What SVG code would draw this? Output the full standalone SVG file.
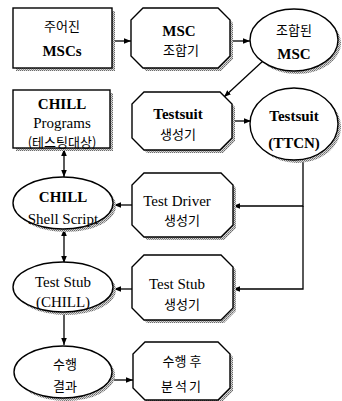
<svg xmlns="http://www.w3.org/2000/svg" width="342" height="401" viewBox="0 0 342 401">
  <style>
    .shape { fill: #ffffff; stroke: #000000; stroke-width: 1.4; }
    .shadow { fill: url(#stipple); stroke: none; }
    .lat { font-family: 'Liberation Serif', 'DejaVu Serif', 'Noto Sans CJK KR', serif; font-size: 15px; font-weight: bold; text-anchor: middle; fill: #000; }
    .reg { font-weight: normal; }
    .kor { font-family: 'Noto Sans CJK KR', sans-serif; font-size: 13px; text-anchor: middle; fill: #000; }
    .wide { letter-spacing: 2px; }
    .conn { fill: none; stroke: #000000; stroke-width: 1.3; }
  </style>
  <defs>
    <pattern id="stipple" width="2" height="2" patternUnits="userSpaceOnUse">
      <rect width="2" height="2" fill="#d8d8d8"/>
      <rect width="1" height="1" fill="#6a6a6a"/>
      <rect x="1" y="1" width="1" height="1" fill="#8a8a8a"/>
    </pattern>
    <marker id="arrow" viewBox="0 0 10 10" refX="10" refY="5" markerWidth="7" markerHeight="7" markerUnits="userSpaceOnUse" orient="auto-start-reverse">
      <path d="M0,1 L10,5 L0,9 z" fill="#000"/>
    </marker>
  </defs>

  <!-- connectors -->
  <g id="connectors">
    <line class="conn" x1="112" y1="41" x2="131" y2="41" marker-end="url(#arrow)"/>
    <line class="conn" x1="230" y1="41" x2="250" y2="41" marker-end="url(#arrow)"/>
    <line class="conn" x1="264" y1="60" x2="224" y2="97" marker-end="url(#arrow)"/>
    <line class="conn" x1="232" y1="121" x2="251" y2="121" marker-end="url(#arrow)"/>
    <line class="conn" x1="64" y1="149" x2="64" y2="177" marker-start="url(#arrow)" marker-end="url(#arrow)"/>
    <polyline class="conn" points="303,161 303,206 233,206" marker-end="url(#arrow)"/>
    <polyline class="conn" points="303,206 303,289 233,289" marker-end="url(#arrow)"/>
    <line class="conn" x1="132" y1="205" x2="114" y2="205" marker-end="url(#arrow)"/>
    <line class="conn" x1="64" y1="229" x2="64" y2="263" marker-start="url(#arrow)" marker-end="url(#arrow)"/>
    <line class="conn" x1="132" y1="289" x2="114" y2="289" marker-end="url(#arrow)"/>
    <line class="conn" x1="64" y1="313" x2="64" y2="345" marker-end="url(#arrow)"/>
    <line class="conn" x1="112" y1="380" x2="133" y2="380" marker-end="url(#arrow)"/>
  </g>

  <!-- 주어진 MSCs -->
  <g id="given-mscs">
    <rect class="shadow" x="16" y="11" width="99" height="60"/>
    <rect class="shape" x="13" y="8" width="99" height="60"/>
    <text class="kor" x="62" y="31">주어진</text>
    <text class="lat" x="62" y="56">MSCs</text>
  </g>

  <!-- MSC 조합기 -->
  <g id="msc-combiner">
    <polygon class="shadow" points="146,11 221,11 233,23 233,59 221,71 146,71 134,59 134,23"/>
    <polygon class="shape" points="143,8 218,8 230,20 230,56 218,68 143,68 131,56 131,20"/>
    <text class="lat" x="179" y="36">MSC</text>
    <text class="kor" x="181" y="55">조합기</text>
  </g>

  <!-- 조합된 MSC -->
  <g id="combined-msc">
    <ellipse class="shadow" cx="297" cy="43" rx="44" ry="31"/>
    <ellipse class="shape" cx="294" cy="40" rx="44" ry="31"/>
    <text class="kor" x="294" y="35">조합된</text>
    <text class="lat" x="294" y="59">MSC</text>
  </g>

  <!-- CHILL Programs -->
  <g id="chill-programs">
    <rect class="shadow" x="16" y="93" width="97" height="58"/>
    <rect class="shape" x="13" y="90" width="97" height="58"/>
    <text class="lat" x="62" y="109">CHILL</text>
    <text class="lat reg" x="62" y="128">Programs</text>
    <text class="kor" x="62" y="147">(테스팅대상)</text>
  </g>

  <!-- Testsuit 생성기 -->
  <g id="testsuit-generator">
    <polygon class="shadow" points="147,95 223,95 235,107 235,141 223,153 147,153 135,141 135,107"/>
    <polygon class="shape" points="144,92 220,92 232,104 232,138 220,150 144,150 132,138 132,104"/>
    <text class="lat" x="178" y="119">Testsuit</text>
    <text class="kor" x="178" y="139">생성기</text>
  </g>

  <!-- Testsuit (TTCN) -->
  <g id="testsuit-ttcn">
    <ellipse class="shadow" cx="297" cy="127" rx="44" ry="36"/>
    <ellipse class="shape" cx="294" cy="124" rx="44" ry="36"/>
    <text class="lat" x="294" y="121">Testsuit</text>
    <text class="lat" x="294" y="148">(TTCN)</text>
  </g>

  <!-- CHILL Shell Script -->
  <g id="chill-shell-script">
    <ellipse class="shadow" cx="66" cy="206" rx="50" ry="26"/>
    <ellipse class="shape" cx="63" cy="203" rx="50" ry="26"/>
    <text class="lat" x="63" y="202">CHILL</text>
    <text class="lat reg" x="63" y="224">Shell Script</text>
  </g>

  <!-- Test Driver 생성기 -->
  <g id="test-driver-generator">
    <polygon class="shadow" points="147,176 224,176 236,188 236,228 224,240 147,240 135,228 135,188"/>
    <polygon class="shape" points="144,173 221,173 233,185 233,225 221,237 144,237 132,225 132,185"/>
    <text class="lat reg" x="177" y="206">Test Driver</text>
    <text class="kor" x="182" y="225">생성기</text>
  </g>

  <!-- Test Stub (CHILL) -->
  <g id="test-stub-chill">
    <ellipse class="shadow" cx="66" cy="290" rx="50" ry="25"/>
    <ellipse class="shape" cx="63" cy="287" rx="50" ry="25"/>
    <text class="lat reg" x="63" y="287">Test Stub</text>
    <text class="lat reg" x="63" y="307">(CHILL)</text>
  </g>

  <!-- Test Stub 생성기 -->
  <g id="test-stub-generator">
    <polygon class="shadow" points="147,258 224,258 236,270 236,311 224,323 147,323 135,311 135,270"/>
    <polygon class="shape" points="144,255 221,255 233,267 233,308 221,320 144,320 132,308 132,267"/>
    <text class="lat reg" x="177" y="289">Test Stub</text>
    <text class="kor" x="182" y="309">생성기</text>
  </g>

  <!-- 수행 결과 -->
  <g id="execution-result">
    <ellipse class="shadow" cx="66" cy="375" rx="49" ry="26"/>
    <ellipse class="shape" cx="63" cy="372" rx="49" ry="26"/>
    <text class="kor" x="65" y="369">수행</text>
    <text class="kor" x="65" y="391">결과</text>
  </g>

  <!-- 수행 후 분석기 -->
  <g id="post-execution-analyzer">
    <polygon class="shadow" points="148,345 221,345 233,357 233,391 221,403 148,403 136,391 136,357"/>
    <polygon class="shape" points="145,342 218,342 230,354 230,388 218,400 145,400 133,388 133,354"/>
    <text class="kor" x="182" y="366">수행 후</text>
    <text class="kor wide" x="182" y="391">분석기</text>
  </g>
</svg>
